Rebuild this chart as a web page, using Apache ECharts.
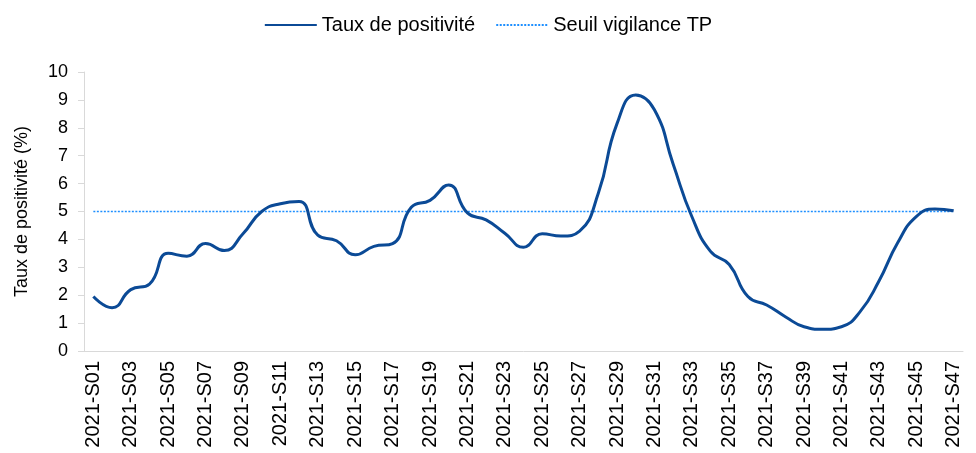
<!DOCTYPE html>
<html lang="fr">
<head>
    <meta charset="UTF-8">
    <title>Taux de positivité</title>
    <script src="https://cdn.jsdelivr.net/npm/echarts@6/dist/echarts.min.js"></script>
    <style type="text/css">
        html, body { margin: 0; padding: 0; background: #fff; }
        #box { width: 976px; height: 453px; }
    </style>
</head>
<body>
    <div id="box"></div>
<script>
    // semaines 2021-S01 .. 2021-S47
    var weeks = [];
    for (var w = 1; w <= 47; w++) {
        weeks.push('2021-S' + (w < 10 ? '0' + w : w));
    }
    // taux de positivité (%)
    var tauxPositivite = [
        1.95, 1.55, 2.2, 2.4, 3.5, 3.4, 3.85, 3.6, 4.2, 5.0,
        5.28, 5.36, 4.15, 3.95, 3.45, 3.75, 3.85, 5.15, 5.4, 5.95,
        4.95, 4.7, 4.22, 3.72, 4.2, 4.12, 4.3, 5.65, 8.15, 9.18,
        8.65, 6.7, 4.82, 3.57, 3.1, 1.95, 1.65, 1.23, 0.87, 0.78,
        0.87, 1.41, 2.5, 3.87, 4.82, 5.09, 5.03
    ];
    var seuil = 5;
    var seuilData = weeks.map(function () { return seuil; });
    var yTicks = [0, 10, 1]; // min, max, pas

    var font = 'Liberation Sans';
    var mychart = echarts.init(document.getElementById('box'));
    mychart.setOption({
        animation: false,
        textStyle: { fontFamily: font, color: '#000' },
        legend: {
            data: ['Taux de positivité', 'Seuil vigilance TP'],
            top: 10,
            left: 'center',
            itemWidth: 52,
            itemHeight: 14,
            itemGap: 20,
            itemStyle: { opacity: 0 },   // pas de symbole, juste le trait
            textStyle: { fontSize: 20, color: '#000', fontFamily: font }
        },
        grid: { left: 84, right: 13, top: 72, bottom: 102 },
        xAxis: {
            type: 'category',
            data: weeks,
            boundaryGap: true,
            axisLine: { lineStyle: { color: '#d9d9d9', width: 1 } },
            axisTick: { interval: 1, length: 6, lineStyle: { color: '#d9d9d9' } },
            axisLabel: { interval: 1, rotate: 90, fontSize: 20, color: '#000', margin: 10, fontFamily: font },
            splitLine: { show: false }
        },
        yAxis: {
            type: 'value',
            min: yTicks[0],
            max: yTicks[1],
            interval: yTicks[2],
            name: 'Taux de positivité (%)',
            nameLocation: 'middle',
            nameGap: 53,
            nameTextStyle: { fontSize: 18, color: '#000', fontFamily: font },
            axisLine: { show: true, lineStyle: { color: '#d9d9d9', width: 1 } },
            axisTick: { show: true, length: 6, lineStyle: { color: '#d9d9d9' } },
            axisLabel: { fontSize: 18, color: '#000', margin: 16, fontFamily: font },
            splitLine: { show: false }
        },
        series: [{
            name: 'Seuil vigilance TP',
            type: 'line',
            data: seuilData,
            symbol: 'none',
            color: '#1e8fff',
            z: 1,
            lineStyle: { width: 1.3, type: [2, 1.5], color: '#1e8fff' }
        }, {
            name: 'Taux de positivité',
            type: 'line',
            data: tauxPositivite,
            smooth: 0.5,
            symbol: 'none',
            color: '#0b4a96',
            z: 2,
            lineStyle: { width: 3, color: '#0b4a96' }
        }]
    });
</script>
</body>
</html>
